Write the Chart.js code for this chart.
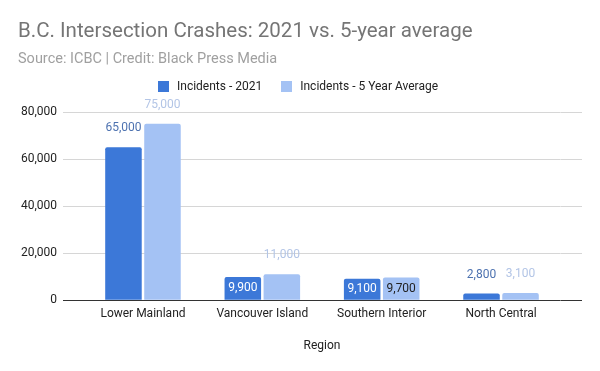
<!DOCTYPE html>
<html lang="en">
<head>
<meta charset="UTF-8">
<script src="https://cdn.jsdelivr.net/npm/chart.js"></script>
<style>
  body { margin: 0; background: #fff; font-family: Roboto, Arial, sans-serif; }
  .wrap { position: relative; width: 600px; height: 371px; }
  .legend { position: absolute; top: 79px; left: 158px; display: flex; font-size: 12px; color: #222; }
  .legend span.item { display: flex; align-items: center; margin-right: 19px; }
  .legend i { display: inline-block; width: 11px; height: 11px; margin-right: 8px; }
</style>
</head>
<body>
<div class="wrap">
  <canvas id="chart" width="600" height="371"></canvas>
  <div class="legend" id="legend"></div>
</div>
<script>
  // data
  const regions = ['Lower Mainland', 'Vancouver Island', 'Southern Interior', 'North Central'];
  const incidents2021 = [65000, 9900, 9100, 2800];
  const incidentsAvg = [75000, 11000, 9700, 3100];
  const seriesNames = ['Incidents - 2021', 'Incidents - 5 Year Average'];
  const yTicks = [0, 20000, 40000, 60000, 80000];
  // where the value labels sit (as in the original)
  const labelPos2021 = ['above', 'inside', 'inside', 'above'];
  const labelPosAvg = ['above', 'above', 'inside', 'above'];

  const colors = ['#3c78d8', '#a4c2f4'];
  const outsideLabelColors = ['#4d72b0', '#b3c5e6'];
  const insideLabelColors = ['#ffffff', '#222222'];

  // html legend
  const legendEl = document.getElementById('legend');
  seriesNames.forEach((n, i) => {
    const s = document.createElement('span');
    s.className = 'item';
    s.innerHTML = `<i style="background:${colors[i]}"></i>${n}`;
    legendEl.appendChild(s);
  });

  const valueLabels = {
    id: 'valueLabels',
    afterDatasetsDraw(chart) {
      const ctx = chart.ctx;
      const positions = [labelPos2021, labelPosAvg];
      ctx.save();
      ctx.font = '12px Roboto, Arial, sans-serif';
      ctx.textAlign = 'center';
      ctx.textBaseline = 'middle';
      chart.data.datasets.forEach((ds, di) => {
        const meta = chart.getDatasetMeta(di);
        meta.data.forEach((bar, i) => {
          const txt = ds.data[i].toLocaleString('en-US');
          if (positions[di][i] === 'inside') {
            ctx.fillStyle = insideLabelColors[di];
            ctx.fillText(txt, bar.x, (bar.y + bar.base) / 2);
          } else {
            ctx.fillStyle = outsideLabelColors[di];
            ctx.fillText(txt, bar.x, bar.y - 19);
          }
        });
      });
      ctx.restore();
    }
  };

  const gridColor = c => (c.tick && c.tick.value === 0) ? '#333333' : '#d6d6d6';

  new Chart(document.getElementById('chart'), {
    type: 'bar',
    data: {
      labels: regions,
      datasets: [
        { label: seriesNames[0], data: incidents2021, backgroundColor: colors[0], borderRadius: 2, yAxisID: 'y' },
        { label: seriesNames[1], data: incidentsAvg, backgroundColor: colors[1], borderRadius: 2, yAxisID: 'y' }
      ]
    },
    options: {
      responsive: false,
      animation: false,
      layout: { padding: { left: 18, right: 18, top: 0, bottom: 0 } },
      datasets: { bar: { categoryPercentage: 0.654, barPercentage: 0.936 } },
      plugins: {
        legend: { display: false },
        tooltip: { enabled: false },
        title: {
          display: true,
          text: 'B.C. Intersection Crashes: 2021 vs. 5-year average',
          align: 'start',
          color: '#757575',
          font: { family: 'Roboto, Arial, sans-serif', size: 20.5, weight: 'normal' },
          padding: { top: 20, bottom: 6 }
        },
        subtitle: {
          display: true,
          text: 'Source: ICBC | Credit: Black Press Media',
          align: 'start',
          color: '#a0a0a0',
          font: { family: 'Roboto, Arial, sans-serif', size: 14.5 },
          padding: { top: 0, bottom: 44 }
        }
      },
      scales: {
        x: {
          grid: { display: false, drawTicks: false },
          border: { display: false },
          ticks: { color: '#222', font: { family: 'Roboto, Arial, sans-serif', size: 12 }, padding: 7 },
          title: {
            display: true, text: 'Region', color: '#222',
            font: { family: 'Roboto, Arial, sans-serif', size: 12 },
            padding: { top: 10, bottom: 18 }
          }
        },
        y: {
          min: yTicks[0], max: yTicks[yTicks.length - 1],
          afterBuildTicks: s => { s.ticks = yTicks.map(v => ({ value: v })); },
          afterFit: s => { s.width = 65.3; },
          grid: { color: gridColor, tickColor: gridColor, tickLength: 20.3 },
          border: { display: false },
          ticks: { color: '#222', font: { family: 'Roboto, Arial, sans-serif', size: 12 }, padding: 6 }
        },
        yRight: {
          position: 'right',
          min: yTicks[0], max: yTicks[yTicks.length - 1],
          afterBuildTicks: s => { s.ticks = yTicks.map(v => ({ value: v })); },
          afterFit: s => { s.width = 21.3; },
          grid: { drawOnChartArea: false, color: gridColor, tickColor: gridColor, tickLength: 21.3 },
          border: { display: false },
          ticks: { display: false }
        }
      }
    },
    plugins: [valueLabels]
  });
</script>
</body>
</html>
